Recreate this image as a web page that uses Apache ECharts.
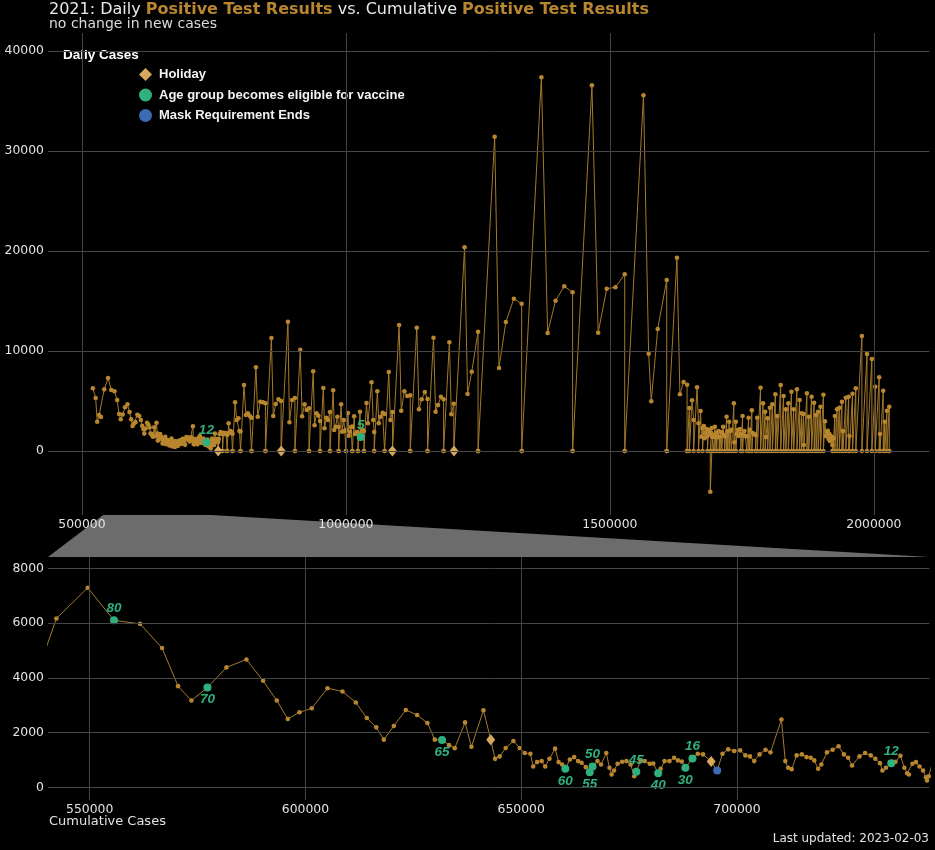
<!DOCTYPE html>
<html>
<head>
<meta charset="utf-8">
<script src="https://cdn.jsdelivr.net/npm/echarts@6/dist/echarts.min.js"></script>
<style>
  html, body { margin: 0; padding: 0; background: #000; }
  #chart { width: 935px; height: 850px; }
</style>
</head>
<body>
<div id="chart"></div>
<script>
// Jan - May: cumulative and daily
const earlyCumulative = [
  520800, 526100, 529000, 532600, 536100,
  542280, 549540, 555630, 561660, 566760, 570470, 573570, 577280, 581680, 586320, 590180, 593350, 595900, 598610, 601460,
  605100, 608580, 611670, 614220, 616400, 618160, 620470, 623250, 625870, 628270, 629970, 631660, 633280, 634600, 636990, 638470, 641250, 642940, 643950,
  645010, 646400, 648200, 649670, 650820, 652130, 652780, 653680, 654750, 655560,
  656550, 657860, 658670, 659490, 660230, 661290, 662280, 663180, 664000, 664980,
  665880, 666540, 667680, 668490, 669720, 670460, 670950, 671520, 672340, 673400,
  674390, 675370, 676190, 676680, 677660, 678640, 679790, 680600, 681750, 682320,
  683220, 684370, 685430, 686330, 687230, 688050, 689690, 690920, 692150, 694030,
  695420, 696650, 697960, 699350, 700740, 701960, 703030, 704010, 705240, 706630,
  707780, 710310, 711210, 711870, 712690, 713830, 715060, 716120, 717100, 717920,
  718820, 719560, 720870, 722180, 723570, 724800, 725780, 726680, 728400, 729710,
  731020, 732080, 733150, 733720, 734540, 735770, 736750, 737900, 738800, 739450,
  739860, 740680, 741500, 742320, 743140, 743800
];
const earlyDaily = [
  6270, 5300, 2930, 3600, 3400,
  6165, 7290, 6100, 5970, 5090, 3695, 3170, 3645, 4380, 4670, 3890, 3170, 2495, 2740, 2885,
  3620, 3500, 3100, 2530, 2190, 1740, 2240, 2825, 2640, 2350, 1740, 1725, 1540, 1430, 2370, 1480, 2815, 1740, 1040,
  1129, 1436, 1693, 1436, 1251, 1227, 761, 920, 957, 761,
  1043, 1411, 920, 834, 675, 1018, 1104, 957, 896, 736,
  552, 761, 957, 834, 1251, 712, 466, 613, 859, 932,
  957, 834, 405, 564, 982, 957, 859, 871, 515, 675,
  957, 957, 1080, 982, 945, 712, 1055, 1227, 1202, 945,
  613, 1227, 1386, 1325, 1350, 1166, 1129, 957, 1202, 1374,
  1276, 2479, 957, 712, 663, 1166, 1202, 1104, 1080, 982,
  675, 834, 1276, 1374, 1497, 1202, 1080, 798, 1129, 1251,
  1166, 1043, 883, 613, 712, 883, 932, 1153, 712, 515,
  466, 859, 920, 761, 613, 368
];

// after May: daily values only, cumulative keeps running on from the last early value
const laterDaily = [
  250, 400, 950, 1250, 1150, 820, 1050, 600, 1750, 1020, 880, 1200, 950, 1100, 900,
  0,
  1200, 1700, 1900, 1800, 1700, 0, 0,
  1830, 1700, 1800, 1770, 1600, 0, 0,
  2770, 1800, 2000, 1900, 1730, 0, 0,
  4870, 3100, 3270, 2000, 1950, 0, 0,
  6600, 3600, 3770, 3500, 3330, 0, 0,
  8370, 3430, 4930, 4870, 4770, 0, 0,
  11300, 3500, 4700, 5170, 5000, 0, 0,
  0,
  12930, 2870, 5100, 5300, 0, 0,
  10130, 3470, 4670, 4100, 4270, 0, 0,
  7970, 2570, 3770, 3530, 3000, 0, 0,
  6300, 2270, 3330, 3100, 3900, 0, 0,
  6070, 2100, 2430, 3430, 2400, 0, 0,
  4670, 1930, 3100, 2000, 2100, 0, 0,
  3800, 1530, 1930, 2400, 2440, 0, 0,
  3470, 1700, 1800, 1900, 1730, 0, 0,
  3930, 1400, 1950, 2100, 2000, 0, 0,
  4800, 2770, 6870, 3100, 1900, 0, 0,
  5970, 2770, 3430, 3830, 3700, 0, 0,
  7900, 3100, 3900, 0, 0, 0, 0,
  12600, 4030, 5970, 5500, 5570, 0, 0,
  12330, 4170, 5170, 5900, 5200, 0, 0,
  11330, 3930, 4600, 5430, 5170, 0, 0,
  10870, 3670, 4730, 0, 0, 0, 0,
  20370, 5700, 7930, 11930, 0, 0, 0,
  31430, 8300, 12900, 15230, 14730, 0, 0,
  37370, 11800, 15030, 16470, 15870, 0, 0,
  36570, 11830, 16230, 16370, 17670, 0, 0,
  35570, 9730, 4970, 12200, 17100, 0, 0,
  0, 19330, 5670, 6900, 6630, 0, 0,
  4300, 0, 5070, 3100, 0, 6370, 2770, 0, 4000, 1430, 2300, 0, 2500, 1270, 1800, 2200, 1500, 0,
  2100, 1900, 1700, 2300, 1400, -4070,
  0, 1800, 1500, 1400, 1570, 0, 2430,
  0, 1830, 1370,
  0, 1500, 2000, 1370, 0, 1430,
  0, 1900, 1870, 0, 2430,
  1600, 1470, 0, 3430,
  0, 1970, 0, 2930,
  0, 2000, 2130, 0, 4770,
  0, 870, 2930,
  0, 1700, 2100, 1500, 2200, 1700, 0, 3500,
  0, 1600, 2000, 1500, 1470, 1500, 0, 3330,
  0, 2130, 0, 4070,
  0, 1800, 1700, 1670, 1600, 0, 3330,
  0, 6330, 0, 4770, 0, 3930,
  0, 1400, 3270, 0, 4330,
  0, 4670, 0, 5670, 0, 3500, 0, 6600, 0, 5500, 0, 4170, 0, 4770, 0, 5930,
  0, 4170, 0, 6170, 0, 5100, 0, 3770,
  0, 3700, 600, 0, 5770,
  0, 3430, 0, 5430, 0, 4830, 0, 3600, 0, 3930, 0, 4430, 0, 5630, 0, 2970,
  1500, 1900, 2030, 1200, 1700, 1000, 1500, 1100, 1400, 600, 0, 1270, 0, 3500,
  0, 4170, 0, 4330, 0, 4930, 0, 2000, 0, 5330, 0, 5430, 0, 1500, 0, 5730, 0, 6270,
  0, 11500, 0, 9700, 0, 9200, 0, 6430, 0, 7370, 0, 1700, 0, 6030, 0, 2930, 0, 4030,
  0, 4430, 0, 0
];

// event markers
const holidayCumulative = [642940, 694030, 758100, 877500, 1088100, 1204800];
const holidayDaily = [1740, 945, 0, 0, 0, 0];
const eligibleCumulative = [555630, 577280, 631660, 660230, 665880, 666540, 676680, 681750, 688050, 689690, 735770, 1028100];
const eligibleDaily = [6100, 3645, 1725, 675, 552, 761, 564, 515, 712, 1055, 883, 1400];
const eligibleAges = ['80', '70', '65', '60', '55', '50', '45', '40', '30', '16', '12', '5'];
const maskCumulative = [695420];
const maskDaily = [613];

// label placement for the age labels (above / below the dot)
const eligibleLabelSide = ['top', 'bottom', 'bottom', 'bottom', 'bottom', 'top', 'top', 'bottom', 'bottom', 'top', 'top', 'top'];

const GOLD = '#b8862f';
const GOLD_LINE = '#a4792b';
const HOLIDAY = '#d6a85e';
const GREEN = '#2fb07c';
const BLUE = '#3b6cb3';
const GRID = '#454545';
const TEXT = '#e2e2e2';

// zoom window of the lower panel, overview starts showing events from here
const zoomRange = [540330, 744630];
const overviewFrom = 730000;

function buildCases() {
  const out = earlyCumulative.map((c, i) => [c, earlyDaily[i]]);
  let running = earlyCumulative[earlyCumulative.length - 1];
  laterDaily.forEach(v => {
    running += v;
    out.push([running, v]);
  });
  return out;
}

function markers(xs, ys, keep) {
  const out = [];
  xs.forEach((x, i) => {
    if (keep(x)) out.push({ value: [x, ys[i]], idx: i });
  });
  return out;
}

const cases = buildCases();
const inOverview = x => x >= overviewFrom;
const inZoom = x => x >= zoomRange[0] && x <= zoomRange[1];

function ageSeries(gridIdx, keep) {
  return {
    name: 'Age group becomes eligible for vaccine',
    type: 'scatter',
    xAxisIndex: gridIdx, yAxisIndex: gridIdx,
    symbol: 'circle', symbolSize: 8,
    itemStyle: { color: GREEN, opacity: 1 },
    z: 5,
    data: markers(eligibleCumulative, eligibleDaily, keep).map(d => ({
      value: d.value,
      label: {
        show: true,
        formatter: eligibleAges[d.idx],
        position: eligibleLabelSide[d.idx],
        distance: 1,
        color: GREEN,
        fontStyle: 'italic',
        fontWeight: 'bold',
        fontSize: 13.5,
        fontFamily: 'Liberation Sans'
      }
    }))
  };
}

function lineSeries(gridIdx) {
  return {
    name: 'Daily Cases',
    type: 'line',
    xAxisIndex: gridIdx, yAxisIndex: gridIdx,
    data: cases,
    symbol: 'circle', symbolSize: 4.6,
    itemStyle: { color: GOLD },
    lineStyle: { color: GOLD_LINE, width: 1 },
    z: 2
  };
}

function valueAxis(gridIdx, min, max, split) {
  return {
    type: 'value',
    gridIndex: gridIdx,
    min: min, max: max,
    splitNumber: split,
    axisLine: { show: false },
    axisTick: { show: false },
    axisLabel: {
      color: TEXT, fontSize: 12.4, fontFamily: 'DejaVu Sans',
      margin: 4, showMinLabel: false, showMaxLabel: false,
      formatter: v => String(v)
    },
    splitLine: {
      show: true, showMinLine: false, showMaxLine: false,
      lineStyle: { color: GRID, width: 1 }
    },
    z: 10
  };
}

const chart = echarts.init(document.getElementById('chart'));

chart.setOption({
  animation: false,
  backgroundColor: '#000',
  title: [
    {
      text: '2021: Daily {g|Positive Test Results} vs. Cumulative {g|Positive Test Results}',
      left: 49, top: 2, padding: 0,
      textStyle: {
        color: '#e8e8e8', fontSize: 16, fontWeight: 'normal', fontFamily: 'DejaVu Sans',
        rich: { g: { color: GOLD, fontSize: 16, fontWeight: 'bold', fontFamily: 'DejaVu Sans' } }
      }
    },
    {
      text: 'no change in new cases',
      left: 49, top: 17, padding: 0,
      textStyle: { color: '#dcdcdc', fontSize: 14, fontWeight: 'normal', fontFamily: 'DejaVu Sans' }
    },
    {
      text: 'Daily Cases',
      left: 61, top: 46, padding: [2, 2], backgroundColor: '#000',
      textStyle: {
        color: '#ffffff', fontSize: 13.5, fontWeight: 'bold', fontFamily: 'Liberation Sans',
        textBorderColor: '#000', textBorderWidth: 1.5
      }
    },
    {
      text: 'Cumulative Cases',
      left: 49, top: 815, padding: 0,
      textStyle: { color: TEXT, fontSize: 13, fontWeight: 'normal', fontFamily: 'DejaVu Sans' }
    },
    {
      text: 'Last updated: 2023-02-03',
      right: 6, top: 833, padding: 0,
      textStyle: { color: TEXT, fontSize: 12, fontWeight: 'normal', fontFamily: 'DejaVu Sans' }
    }
  ],
  legend: {
    data: ['Holiday', 'Age group becomes eligible for vaccine', 'Mask Requirement Ends'],
    orient: 'vertical',
    left: 139, top: 63,
    padding: 0,
    itemWidth: 13, itemHeight: 13, itemGap: -2.5,
    selectedMode: false,
    formatter: name => '{t|' + name + '}',
    textStyle: {
      color: '#f2f2f2', fontSize: 13, fontWeight: 'bold', fontFamily: 'Liberation Sans',
      rich: {
        t: {
          color: '#f2f2f2', fontSize: 13, fontWeight: 'bold', fontFamily: 'Liberation Sans',
          backgroundColor: '#000', padding: [5, 2, 5, 2], lineHeight: 14
        }
      }
    }
  },
  grid: [
    { left: 48, right: 5.5, top: 33, height: 482, outerBoundsMode: 'none' },
    { left: 48, right: 5.5, top: 557, height: 243, outerBoundsMode: 'none' }
  ],
  xAxis: [
    valueAxis(0, 435800, 2105400, 3),
    valueAxis(1, zoomRange[0], zoomRange[1], 4)
  ],
  yAxis: [
    valueAxis(0, -6400, 41800, 5),
    valueAxis(1, -464, 8413, 4)
  ],
  series: [
    lineSeries(0),
    lineSeries(1),
    {
      name: 'Holiday', type: 'scatter', xAxisIndex: 0, yAxisIndex: 0,
      symbol: 'diamond', symbolSize: [9, 11], itemStyle: { color: HOLIDAY, opacity: 1 }, z: 4,
      data: markers(holidayCumulative, holidayDaily, inOverview).map(d => d.value)
    },
    {
      name: 'Holiday', type: 'scatter', xAxisIndex: 1, yAxisIndex: 1,
      symbol: 'diamond', symbolSize: [9, 11], itemStyle: { color: HOLIDAY, opacity: 1 }, z: 4,
      data: markers(holidayCumulative, holidayDaily, inZoom).map(d => d.value)
    },
    ageSeries(0, inOverview),
    ageSeries(1, inZoom),
    {
      name: 'Mask Requirement Ends', type: 'scatter', xAxisIndex: 1, yAxisIndex: 1,
      symbol: 'circle', symbolSize: 8, itemStyle: { color: BLUE, opacity: 1 }, z: 5,
      data: markers(maskCumulative, maskDaily, inZoom).map(d => d.value)
    }
  ]
});

// grey band tying the zoom window in the top panel to the lower panel
const topLeft = chart.convertToPixel({ xAxisIndex: 0, yAxisIndex: 0 }, [zoomRange[0], -6400]);
const topRight = chart.convertToPixel({ xAxisIndex: 0, yAxisIndex: 0 }, [zoomRange[1], -6400]);
const botRight = chart.convertToPixel({ xAxisIndex: 1, yAxisIndex: 1 }, [zoomRange[1], 8413]);
const botLeft = chart.convertToPixel({ xAxisIndex: 1, yAxisIndex: 1 }, [zoomRange[0], 8413]);

chart.setOption({
  graphic: [{
    type: 'polygon',
    z: -1,
    shape: { points: [topLeft, topRight, botRight, botLeft] },
    style: { fill: '#6c6c6c' }
  }]
});
</script>
</body>
</html>
